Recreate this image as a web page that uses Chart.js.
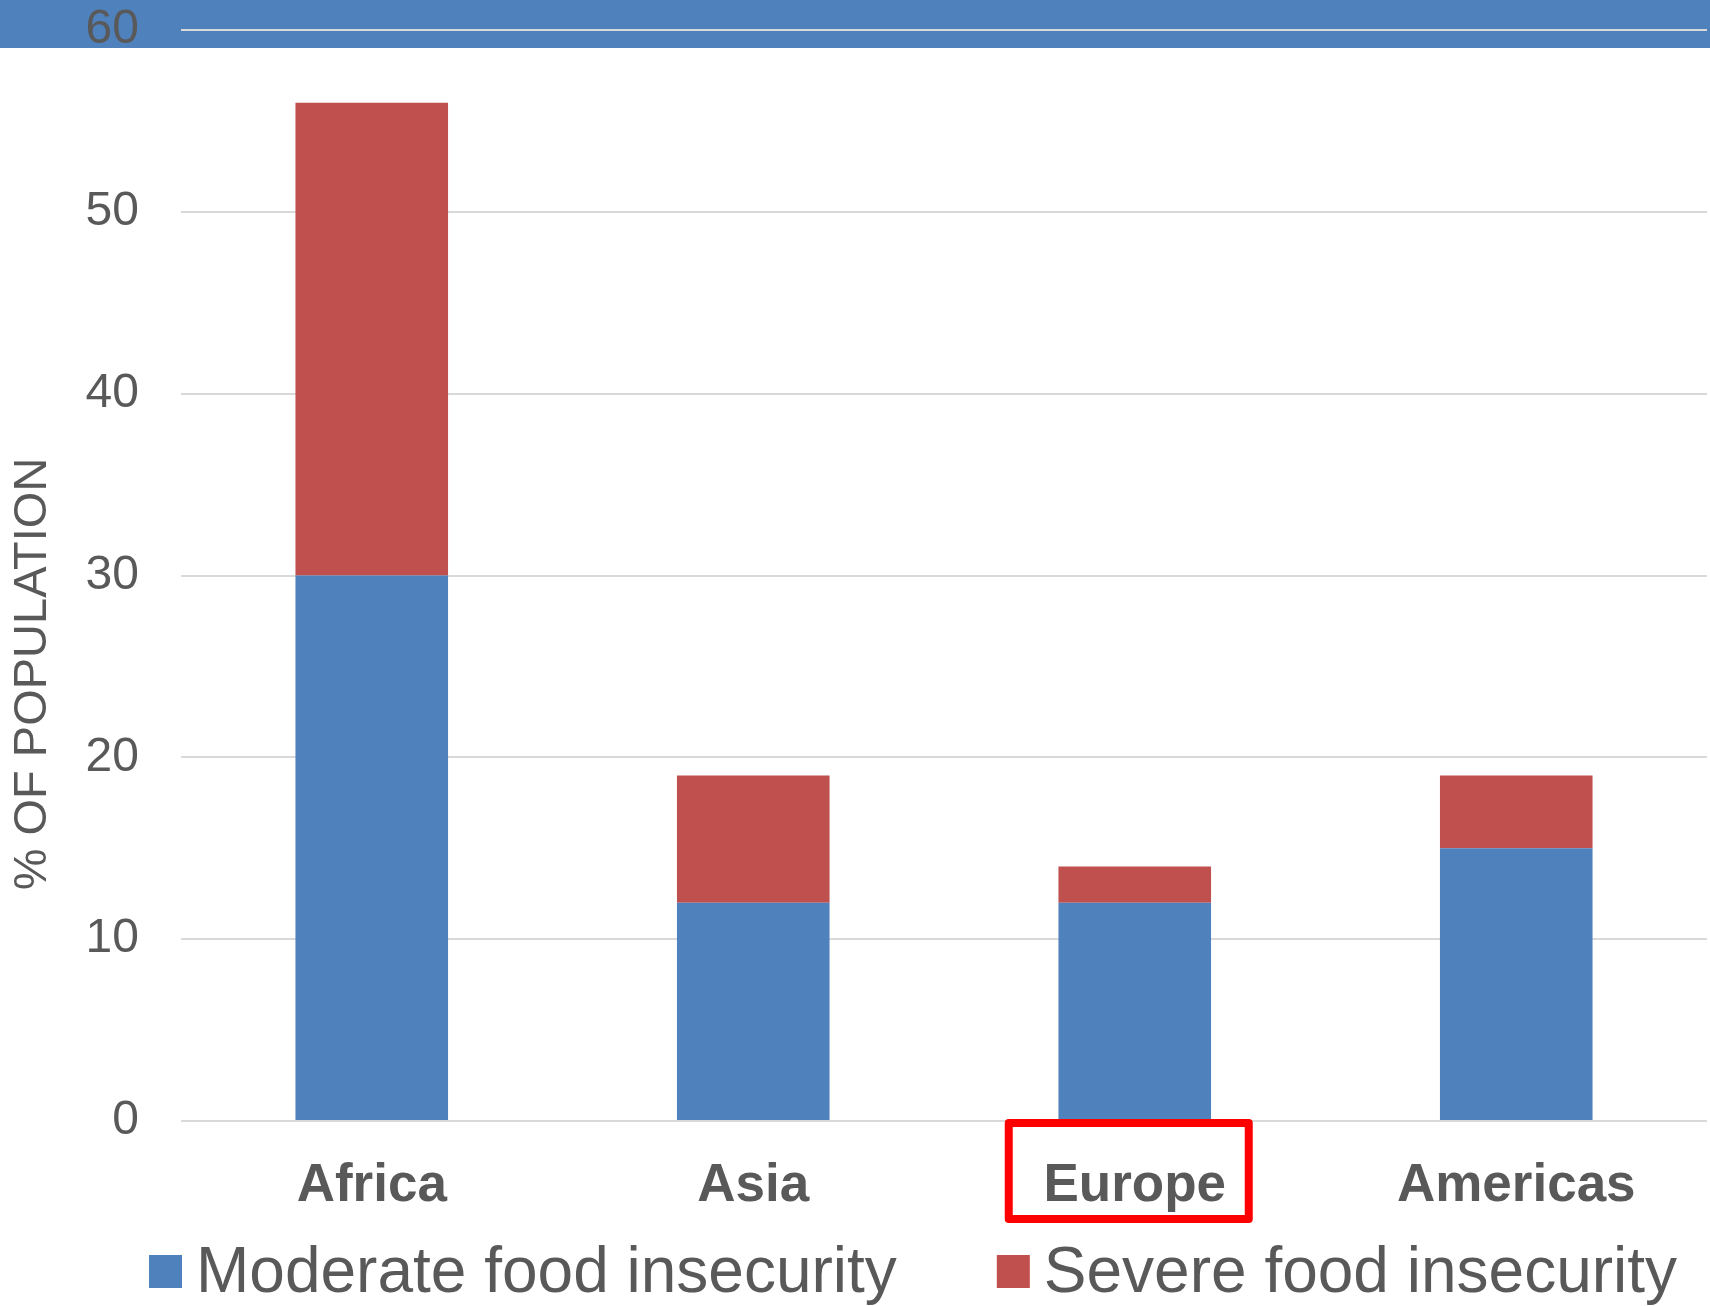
<!DOCTYPE html>
<html>
<head>
<meta charset="utf-8">
<title>Food insecurity by region</title>
<script src="https://cdn.jsdelivr.net/npm/chart.js@4.4.1/dist/chart.umd.min.js"></script>
<style>
  html, body { margin: 0; padding: 0; background: #ffffff; }
  canvas { display: block; }
</style>
</head>
<body>
<canvas id="foodChart" width="1710" height="1306"></canvas>
<script>
// regions along the x axis
const regions = ['Africa', 'Asia', 'Europe', 'Americas'];
// share of population, percent
const moderate = [30, 12, 12, 15];
const severe = [26, 7, 2, 4];
// y axis range
const yMax = 60;
const yStep = 10;

const textGrey = '#595959';
const gridGrey = '#D9D9D9';
const blue = '#4F81BD';
const red = '#C0504D';
const fontFamily = '"Liberation Sans", Arial, sans-serif';

Chart.defaults.font.family = fontFamily;

// blue strip across the top of the slide, behind the grid
const topBand = {
    id: 'topBand',
    beforeDraw(chart) {
        const ctx = chart.ctx;
        ctx.save();
        ctx.fillStyle = '#ffffff';
        ctx.fillRect(0, 0, chart.width, chart.height);
        ctx.fillStyle = blue;
        ctx.fillRect(0, 0, chart.width, 48);
        ctx.restore();
    }
};

// rotated axis title, sits lower than the centre of the axis
const yTitle = {
    id: 'yTitle',
    afterDraw(chart) {
        const ctx = chart.ctx;
        const area = chart.chartArea;
        ctx.save();
        ctx.translate(area.left - 148, area.bottom - 447);
        ctx.rotate(-Math.PI / 2);
        ctx.font = '47px ' + fontFamily;
        ctx.fillStyle = textGrey;
        ctx.textAlign = 'center';
        ctx.textBaseline = 'middle';
        ctx.fillText('% OF POPULATION', 0, 0);
        ctx.restore();
    }
};

// red frame round the Europe label
const highlight = {
    id: 'highlight',
    afterDraw(chart) {
        const ctx = chart.ctx;
        const x = chart.scales.x.getPixelForValue(regions.indexOf('Europe'));
        const bottom = chart.chartArea.bottom;
        ctx.save();
        ctx.strokeStyle = '#FF0000';
        ctx.lineWidth = 8;
        ctx.lineJoin = 'round';
        ctx.strokeRect(x - 126, bottom + 2, 240, 96);
        ctx.restore();
    }
};

// one-row legend under the axis labels: square swatch, tight gap, big text
const legendRow = {
    id: 'legendRow',
    afterDraw(chart) {
        const ctx = chart.ctx;
        const top = chart.chartArea.bottom + 134;
        const box = 33;
        let x = 149;
        ctx.save();
        ctx.font = '64px ' + fontFamily;
        ctx.textAlign = 'left';
        ctx.textBaseline = 'alphabetic';
        chart.data.datasets.forEach((ds) => {
            ctx.fillStyle = ds.backgroundColor;
            ctx.fillRect(x, top, box, box);
            x += box + 14;
            ctx.fillStyle = textGrey;
            ctx.fillText(ds.label, x, top + 37);
            x += ctx.measureText(ds.label).width + 100;
        });
        ctx.restore();
    }
};

const ctx = document.getElementById('foodChart').getContext('2d');
const foodChart = new Chart(ctx, {
    type: 'bar',
    data: {
        labels: regions,
        datasets: [{
            label: 'Moderate food insecurity',
            data: moderate,
            backgroundColor: blue,
            borderWidth: 0,
            barPercentage: 0.4,
            categoryPercentage: 1
        }, {
            label: 'Severe food insecurity',
            data: severe,
            backgroundColor: red,
            borderWidth: 0,
            barPercentage: 0.4,
            categoryPercentage: 1
        }]
    },
    options: {
        responsive: false,
        animation: false,
        layout: {
            padding: { left: 0, right: 3, top: 30, bottom: 0 }
        },
        plugins: {
            tooltip: { enabled: false },
            legend: { display: false }
        },
        scales: {
            x: {
                stacked: true,
                grid: { display: false, drawTicks: false },
                border: { display: false },
                ticks: {
                    padding: 34,
                    color: textGrey,
                    font: { size: 53, weight: 'bold' }
                },
                afterFit(scale) { scale.height = 185; }
            },
            y: {
                stacked: true,
                min: 0,
                max: yMax,
                grid: { color: gridGrey, lineWidth: 2, drawTicks: false },
                border: { display: false },
                ticks: {
                    stepSize: yStep,
                    padding: 42,
                    color: textGrey,
                    font: { size: 48 }
                },
                afterFit(scale) {
                    // fixed gutter; keep the top tick on the band line
                    scale.width = 181;
                    scale.paddingTop = 0;
                    scale.paddingBottom = 0;
                }
            }
        }
    },
    plugins: [topBand, yTitle, highlight, legendRow]
});
</script>
</body>
</html>
